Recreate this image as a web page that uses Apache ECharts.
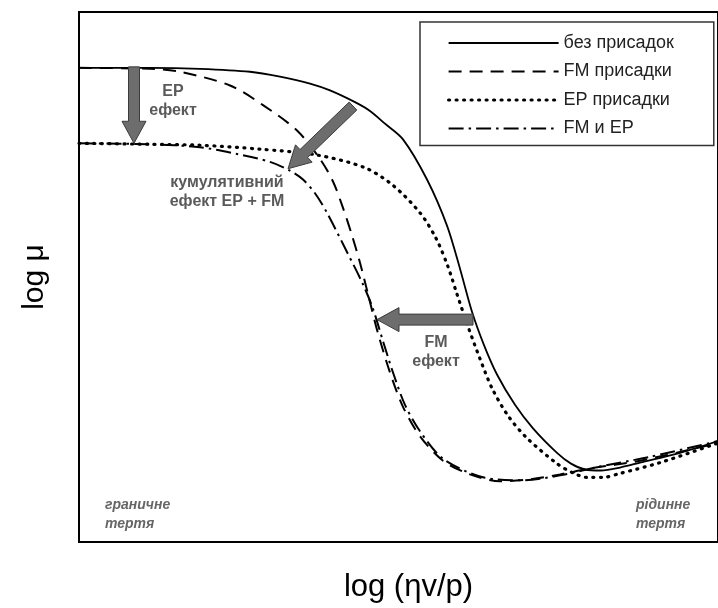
<!DOCTYPE html>
<html><head><meta charset="utf-8">
<script src="https://cdn.jsdelivr.net/npm/echarts@6/dist/echarts.min.js"></script>
<style>html,body{margin:0;padding:0;background:#fff}#c{width:718px;height:608px}</style>
</head><body><div id="c"></div>
<script>
// Curve data: x = log(ηv/p) (arbitrary units), y = log μ (arbitrary units)
const seriesNames = ['без присадок', 'FM присадки', 'EP присадки', 'FM и EP'];
const baseOil = [[0,48.4],[7.1,48.4],[12.1,48.3],[17.1,48.0],[20.1,47.5],[23.1,46.8],[25.1,46.1],[27.6,44.9],[29.1,44.0],[30.6,42.7],[32.4,41.1],[34.8,37.0],[36.8,32.3],[38.1,27.9],[39.3,23.5],[40.5,20.1],[41.8,17.1],[43.6,14.0],[45.4,11.6],[47.8,9.1],[49.2,8.0],[50.6,7.4],[52.2,7.3],[54.1,7.6],[56.1,8.1],[60.1,9.1],[63.9,10.3]];
const fmAdd = [[0,48.4],[7.1,48.3],[10.1,48.0],[15.1,46.6],[18.4,44.6],[21.8,42.0],[24.1,39.1],[25.4,36.8],[26.4,34.1],[27.3,31.3],[28.1,28.5],[28.9,25.3],[29.9,21.3],[31.1,17.3],[32.4,13.8],[34.1,10.8],[36.4,8.3],[39.1,6.9],[42.1,6.2],[45.1,6.4],[48.1,6.9],[51.1,7.5],[56.1,8.3],[63.9,10.1]];
const epAdd = [[0,40.7],[7.1,40.6],[12.1,40.5],[18.1,40.1],[23.8,39.5],[28.6,38.2],[31.4,36.4],[34.1,33.6],[35.7,31.0],[36.9,28.1],[37.8,25.3],[38.9,22.0],[40.1,18.7],[41.3,15.7],[42.9,12.9],[44.8,10.6],[47.8,8.0],[49.3,7.1],[50.8,6.6],[52.4,6.6],[54.1,7.0],[58.1,8.1],[63.9,10.1]];
const fmEp = [[0,40.7],[7.1,40.6],[12.1,40.3],[15.8,39.6],[19.1,38.8],[21.1,37.9],[22.4,37.0],[23.6,35.6],[24.8,33.6],[26.8,29.6],[28.4,26.3],[29.4,23.8],[30.4,20.5],[31.4,17.3],[32.6,14.0],[34.1,11.3],[36.4,8.5],[40.4,6.6],[44.4,6.3],[48.1,6.8],[52.1,7.7],[57.1,8.7],[63.9,10.3]];
// Annotation arrows: [x0, y0, x1, y1] (start -> tip)
const arrows = [[5.5,48.5,5.5,40.7],[27.4,44.5,20.9,38.1],[39.4,22.7,29.8,22.7]];
// Annotation texts: [x, y, text]
const notes = [[9.4,45.0,'EP\nефект'],[14.8,35.7,'кумулятивний\nефект EP + FM'],[35.7,19.4,'FM\nефект']];
const regimeNotes = [[2.6,2.8,'граничне\nтертя'],[55.7,2.8,'рідинне\nтертя']];
const xTitle = 'log (ηv/p)';
const yTitle = 'log μ';

const chart = echarts.init(document.getElementById('c'), null, {renderer:'canvas'});
function arrowItem(params, api){
  const p0 = api.coord([api.value(0), api.value(1)]);
  const p1 = api.coord([api.value(2), api.value(3)]);
  const dx = p1[0]-p0[0], dy = p1[1]-p0[1];
  const L = Math.sqrt(dx*dx+dy*dy), ux = dx/L, uy = dy/L, nx = -uy, ny = ux;
  const sw = 5.5, hw = 12, hl = 22;
  const bx = p1[0]-ux*hl, by = p1[1]-uy*hl;
  const pts = [
    [p0[0]+nx*sw, p0[1]+ny*sw],[bx+nx*sw, by+ny*sw],[bx+nx*hw, by+ny*hw],
    [p1[0],p1[1]],
    [bx-nx*hw, by-ny*hw],[bx-nx*sw, by-ny*sw],[p0[0]-nx*sw, p0[1]-ny*sw]
  ];
  return {type:'polygon', shape:{points:pts}, style:{fill:'#6d6d6d', stroke:'#3c3c3c', lineWidth:1}};
}
function textItem(style){
  return function(params, api){
    const p = api.coord([api.value(0), api.value(1)]);
    return {type:'text', x:p[0], y:p[1], style:Object.assign({text: api.value(2)}, style)};
  };
}
const lineBase = {type:'line', showSymbol:false, symbol:'none', smooth:0.3, animation:false, z:3};
chart.setOption({
  animation:false,
  backgroundColor:'#fff',
  grid:{left:79, right:-3, top:12, bottom:55, show:true, borderColor:'#000', borderWidth:2, backgroundColor:'transparent'},
  xAxis:{type:'value', min:0, max:63.9, axisLine:{show:false}, axisTick:{show:false}, axisLabel:{show:false}, splitLine:{show:false},
    name:xTitle, nameLocation:'middle', nameGap:30, nameTextStyle:{fontFamily:'Liberation Sans', fontSize:31, color:'#000', padding:[0,0,0,20]}},
  yAxis:{type:'value', min:0, max:54.1, axisLine:{show:false}, axisTick:{show:false}, axisLabel:{show:false}, splitLine:{show:false},
    name:yTitle, nameLocation:'middle', nameGap:29, nameTextStyle:{fontFamily:'Liberation Sans', fontSize:30, color:'#000'}},
  legend:{orient:'vertical', left:420, top:22, itemWidth:110, itemHeight:14, itemGap:10.5,
    padding:[12,40,8,27], backgroundColor:'#fff', borderColor:'#333', borderWidth:1.5,
    itemStyle:{opacity:0},
    lineStyle:{width:'inherit'},
    textStyle:{fontFamily:'Liberation Sans', fontSize:18, color:'#222'},
    data:seriesNames},
  series:[
    Object.assign({}, lineBase, {name:seriesNames[0], data:baseOil, lineStyle:{color:'#000', width:1.8, type:'solid'}, itemStyle:{color:'#000'}}),
    Object.assign({}, lineBase, {name:seriesNames[1], data:fmAdd, lineStyle:{color:'#000', width:2, type:[13,8]}, itemStyle:{color:'#000'}}),
    Object.assign({}, lineBase, {name:seriesNames[2], data:epAdd, lineStyle:{color:'#000', width:3.2, type:[1,6.5], cap:'round'}, itemStyle:{color:'#000'}}),
    Object.assign({}, lineBase, {name:seriesNames[3], data:fmEp, lineStyle:{color:'#000', width:2, type:[15,5,2.5,5]}, itemStyle:{color:'#000'}}),
    {type:'custom', name:'arrows', data:arrows, renderItem:arrowItem, encode:{x:[0,2], y:[1,3]}, z:5, silent:true, animation:false},
    {type:'custom', name:'notes', data:notes, renderItem:textItem({fill:'#5a5a5a', font:'bold 16px "Liberation Sans"', align:'center', verticalAlign:'middle', lineHeight:19}), encode:{x:0,y:1}, z:6, silent:true, animation:false},
    {type:'custom', name:'regimes', data:regimeNotes, renderItem:textItem({fill:'#666', font:'italic bold 14px "Liberation Sans"', align:'left', verticalAlign:'middle', lineHeight:19}), encode:{x:0,y:1}, z:6, silent:true, animation:false}
  ]
});
</script></body></html>
